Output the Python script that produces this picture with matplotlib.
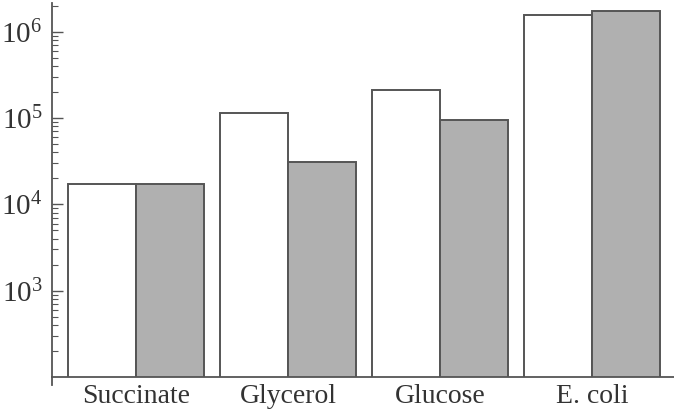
import numpy as np
import matplotlib
matplotlib.use("Agg")
import matplotlib.pyplot as plt
from matplotlib.ticker import LogLocator, FixedLocator, NullFormatter

# ========== 数据 ==========
categories = ["Succinate", "Glycerol", "Glucose", "E. coli"]
white_vals = [1.7e4, 1.15e5, 2.1e5, 1.58e6]
grey_vals = [1.72e4, 3.1e4, 9.5e4, 1.74e6]
ytick_vals = [1e3, 1e4, 1e5, 1e6]
ytick_labels = [r"$\mathregular{10^{3}}$", r"$\mathregular{10^{4}}$",
                r"$\mathregular{10^{5}}$", r"$\mathregular{10^{6}}$"]

plt.rcParams["font.family"] = ["Liberation Serif", "DejaVu Serif"]
plt.rcParams["mathtext.fontset"] = "custom"
plt.rcParams["mathtext.rm"] = "Liberation Serif"

TEXT_C = "#333333"
LINE_C = "#555555"
W = 0.447

fig = plt.figure(figsize=(6.74, 4.18), dpi=100)
ax = fig.add_axes([0.0772, 0.0981, 0.9228, 0.8947])

x = np.arange(len(categories))
ax.bar(x - W / 2, white_vals, width=W, color="white",
       edgecolor=LINE_C, linewidth=1.4)
ax.bar(x + W / 2, grey_vals, width=W, color="#b0b0b0",
       edgecolor=LINE_C, linewidth=1.4)

ax.set_yscale("log")
ax.set_ylim(100, 2.15e6)
ax.set_xlim(-0.553, 3.54)

ax.yaxis.set_major_locator(FixedLocator(ytick_vals))
ax.set_yticklabels(ytick_labels)
ax.yaxis.set_minor_locator(LogLocator(base=10, subs=np.arange(2, 10), numticks=20))
ax.yaxis.set_minor_formatter(NullFormatter())
ax.tick_params(axis="y", which="major", direction="in", length=8, width=1,
               color=LINE_C, labelsize=21, labelcolor=TEXT_C, pad=7)
ax.tick_params(axis="y", which="minor", direction="in", length=4, width=0.8,
               color=LINE_C)

ax.set_xticks(x)
ax.set_xticklabels(categories)
ax.tick_params(axis="x", length=0, labelsize=20, labelcolor=TEXT_C, pad=5)

for side in ["top", "right"]:
    ax.spines[side].set_visible(False)
for side in ["left", "bottom"]:
    ax.spines[side].set_color(LINE_C)
    ax.spines[side].set_linewidth(1.3)

# 左轴线向下略微伸出
ax.plot([0, 0], [0, -0.022], transform=ax.transAxes, color=LINE_C,
        linewidth=1.3, clip_on=False)

fig.savefig("out.png", dpi=100)
